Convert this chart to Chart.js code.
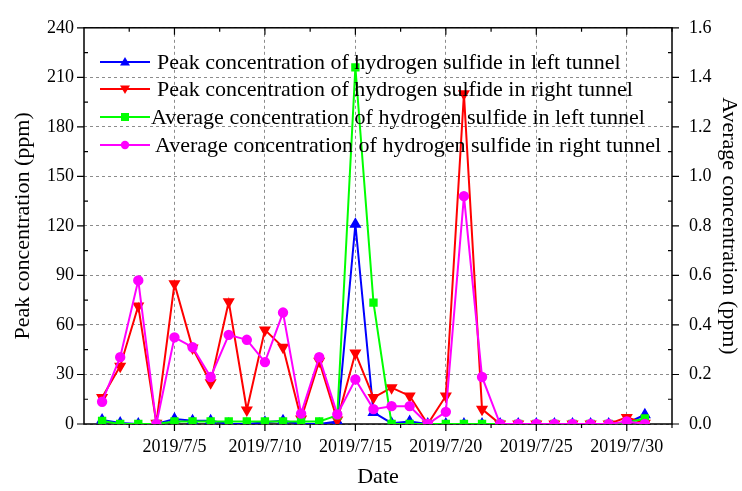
<!DOCTYPE html>
<html lang="en">
<head>
<meta charset="UTF-8">
<title>Hydrogen sulfide concentration</title>
<script src="https://cdn.jsdelivr.net/npm/chart.js"></script>
<style>
  body { margin: 0; background: #fff; }
</style>
</head>
<body>
<canvas id="myChart1" width="742" height="491"></canvas>
<script>
    // day of July 2019
    const days = [1, 2, 3, 4, 5, 6, 7, 8, 9, 10, 11, 12, 13, 14, 15, 16,
        17, 18, 19, 20, 21, 22, 23, 24, 25, 26, 27, 28, 29, 30, 31];
    // ppm, left axis
    const peakLeft = [2.4, 0.6, 0, 0, 3, 2, 2, 0, 0, 1, 2, 0, 0, 1.5, 121, 7,
        0.5, 1.5, 0, 0, 0, 0, 0, 0, 0, 0, 0, 0, 0, 0.5, 5.6];
    const peakRight = [16, 35, 71.5, 0.5, 85, 46, 25, 74, 8.5, 57, 46.5, 3, 38, 2.4, 43, 16,
        22, 17, 0, 17, 200, 9, 0, 0, 0, 0, 0, 0, 0, 4, 0.5];
    // ppm, right axis
    const avgLeft = [0.012, 0, 0, 0, 0.01, 0.01, 0.01, 0.01, 0.01, 0.01, 0.01, 0.01, 0.01, 0.035, 1.44, 0.49,
        0, 0, 0, 0, 0, 0, 0, 0, 0, 0, 0, 0, 0, 0.005, 0.022];
    const avgRight = [0.09, 0.27, 0.58, 0, 0.35, 0.31, 0.19, 0.36, 0.34, 0.25, 0.45, 0.042, 0.27, 0.039, 0.18, 0.06,
        0.072, 0.072, 0, 0.049, 0.92, 0.19, 0, 0, 0, 0, 0, 0, 0, 0.01, 0];

    const xTicks = [5, 10, 15, 20, 25, 30];
    const yTicks = [0, 30, 60, 90, 120, 150, 180, 210, 240];
    const y2Ticks = [0, 0.2, 0.4, 0.6, 0.8, 1.0, 1.2, 1.4, 1.6];

    const seriesNames = [
        "Peak concentration of hydrogen sulfide in left tunnel",
        "Peak concentration of hydrogen sulfide in right tunnel",
        "Average concentration of hydrogen sulfide in left tunnel",
        "Average concentration of hydrogen sulfide in right tunnel"
    ];

    const serif = "'Liberation Serif', 'Times New Roman', serif";
    const toPts = (arr) => arr.map((v, i) => ({ x: days[i], y: v }));

    // marker shapes for the hand drawn legend
    function marker(ctx, kind, x, y, color) {
        ctx.fillStyle = color;
        ctx.beginPath();
        if (kind === "up") {
            ctx.moveTo(x, y - 5); ctx.lineTo(x + 5, y + 3.5); ctx.lineTo(x - 5, y + 3.5);
        } else if (kind === "down") {
            ctx.moveTo(x, y + 5); ctx.lineTo(x + 5, y - 3.5); ctx.lineTo(x - 5, y - 3.5);
        } else if (kind === "rect") {
            ctx.rect(x - 4, y - 4, 8, 8);
        } else {
            ctx.arc(x, y, 4.2, 0, Math.PI * 2);
        }
        ctx.closePath();
        ctx.fill();
    }

    const frame = {
        id: "frame",
        beforeDatasetsDraw(chart) {
            const { ctx, chartArea: a, scales } = chart;
            ctx.save();
            ctx.strokeStyle = "#000";
            ctx.lineWidth = 1.5;
            ctx.strokeRect(a.left, a.top, a.right - a.left, a.bottom - a.top);
            ctx.lineWidth = 1.2;
            ctx.beginPath();
            // x ticks, major + minor
            for (let v = 2.5; v <= 32.5; v += 2.5) {
                const px = scales.x.getPixelForValue(v);
                const major = v % 5 === 0;
                ctx.moveTo(px, a.bottom); ctx.lineTo(px, a.bottom + (major ? 7 : 4));
                ctx.moveTo(px, a.top); ctx.lineTo(px, a.top + (major ? 7 : 4));
            }
            for (let v = 0; v <= 240; v += 15) {
                const py = scales.y.getPixelForValue(v);
                const major = v % 30 === 0;
                if (major) { ctx.moveTo(a.left, py); ctx.lineTo(a.left - 7, py); }
                else { ctx.moveTo(a.left, py); ctx.lineTo(a.left + 4, py); }
            }
            for (let k = 0; k <= 16; k++) {
                const py = scales.y2.getPixelForValue(k / 10);
                if (k % 2 === 0) { ctx.moveTo(a.right, py); ctx.lineTo(a.right + 7, py); }
                else { ctx.moveTo(a.right, py); ctx.lineTo(a.right - 4, py); }
            }
            ctx.stroke();
            ctx.restore();
        },
        afterDraw(chart) {
            const ctx = chart.ctx;
            const rows = [62, 89, 117, 145];
            const textX = [157, 157, 151, 155];
            const kinds = ["up", "down", "rect", "circle"];
            ctx.save();
            ctx.font = "22px " + serif;
            ctx.textBaseline = "middle";
            chart.data.datasets.forEach((ds, i) => {
                const y = rows[i];
                ctx.strokeStyle = ds.borderColor;
                ctx.lineWidth = 2;
                ctx.beginPath();
                ctx.moveTo(100, y); ctx.lineTo(150, y);
                ctx.stroke();
                marker(ctx, kinds[i], 125, y, ds.borderColor);
                ctx.fillStyle = "#000";
                ctx.fillText(seriesNames[i], textX[i], y + 1);
            });
            ctx.restore();
        }
    };

    const ctx = document.getElementById("myChart1");
    new Chart(ctx, {
        type: "line",
        data: {
            datasets: [
                {
                    label: seriesNames[0], data: toPts(peakLeft), yAxisID: "y",
                    borderColor: "#0000ff", backgroundColor: "#0000ff",
                    pointStyle: "triangle", pointRadius: 5, borderWidth: 2, order: 4
                },
                {
                    label: seriesNames[1], data: toPts(peakRight), yAxisID: "y",
                    borderColor: "#ff0000", backgroundColor: "#ff0000",
                    pointStyle: "triangle", rotation: 180, pointRadius: 5, borderWidth: 2, order: 3
                },
                {
                    label: seriesNames[2], data: toPts(avgLeft), yAxisID: "y2",
                    borderColor: "#00ff00", backgroundColor: "#00ff00",
                    pointStyle: "rect", pointRadius: 4.5, borderWidth: 2, order: 2
                },
                {
                    label: seriesNames[3], data: toPts(avgRight), yAxisID: "y2",
                    borderColor: "#ff00ff", backgroundColor: "#ff00ff",
                    pointStyle: "circle", pointRadius: 4.2, borderWidth: 2, order: 1
                }
            ]
        },
        options: {
            responsive: false,
            animation: false,
            devicePixelRatio: 1,
            layout: { padding: { top: 17, left: 0, right: 0, bottom: 0 } },
            elements: { line: { tension: 0 }, point: { borderWidth: 1 } },
            plugins: { legend: { display: false }, tooltip: { enabled: false } },
            scales: {
                x: {
                    type: "linear", min: 0, max: 32.5,
                    afterBuildTicks: (s) => { s.ticks = xTicks.map((v) => ({ value: v })); },
                    afterFit: (s) => { s.height = 67; },
                    grid: { color: "#8c8c8c", lineWidth: 1, drawTicks: false },
                    border: { display: false, dash: [3, 3] },
                    ticks: {
                        autoSkip: false, maxRotation: 0, padding: 12, color: "#000",
                        font: { family: serif, size: 18 },
                        callback: (v) => "2019/7/" + v
                    },
                    title: { display: true, text: "Date", color: "#000", font: { family: serif, size: 22 }, padding: { top: 0, bottom: 1 } }
                },
                y: {
                    position: "left", min: 0, max: 240,
                    afterBuildTicks: (s) => { s.ticks = yTicks.map((v) => ({ value: v })); },
                    afterFit: (s) => { s.width = 84; },
                    grid: { color: "#8c8c8c", lineWidth: 1, drawTicks: false },
                    border: { display: false, dash: [3, 3] },
                    ticks: { padding: 10, color: "#000", font: { family: serif, size: 18 } },
                    title: { display: true, text: "Peak concentration (ppm)", color: "#000", font: { family: serif, size: 22 }, padding: { top: 10, bottom: 0 } }
                },
                y2: {
                    position: "right", min: 0, max: 1.6,
                    afterBuildTicks: (s) => { s.ticks = y2Ticks.map((v) => ({ value: v })); },
                    afterFit: (s) => { s.width = 70; },
                    grid: { display: false, drawTicks: false },
                    border: { display: false },
                    ticks: {
                        padding: 17, color: "#000", font: { family: serif, size: 18 },
                        callback: (v) => v.toFixed(1)
                    },
                    title: { display: true, text: "Average concentration (ppm)", color: "#000", font: { family: serif, size: 22 }, padding: { top: 0, bottom: 0 } }
                }
            }
        },
        plugins: [frame]
    });
</script>
</body>
</html>
